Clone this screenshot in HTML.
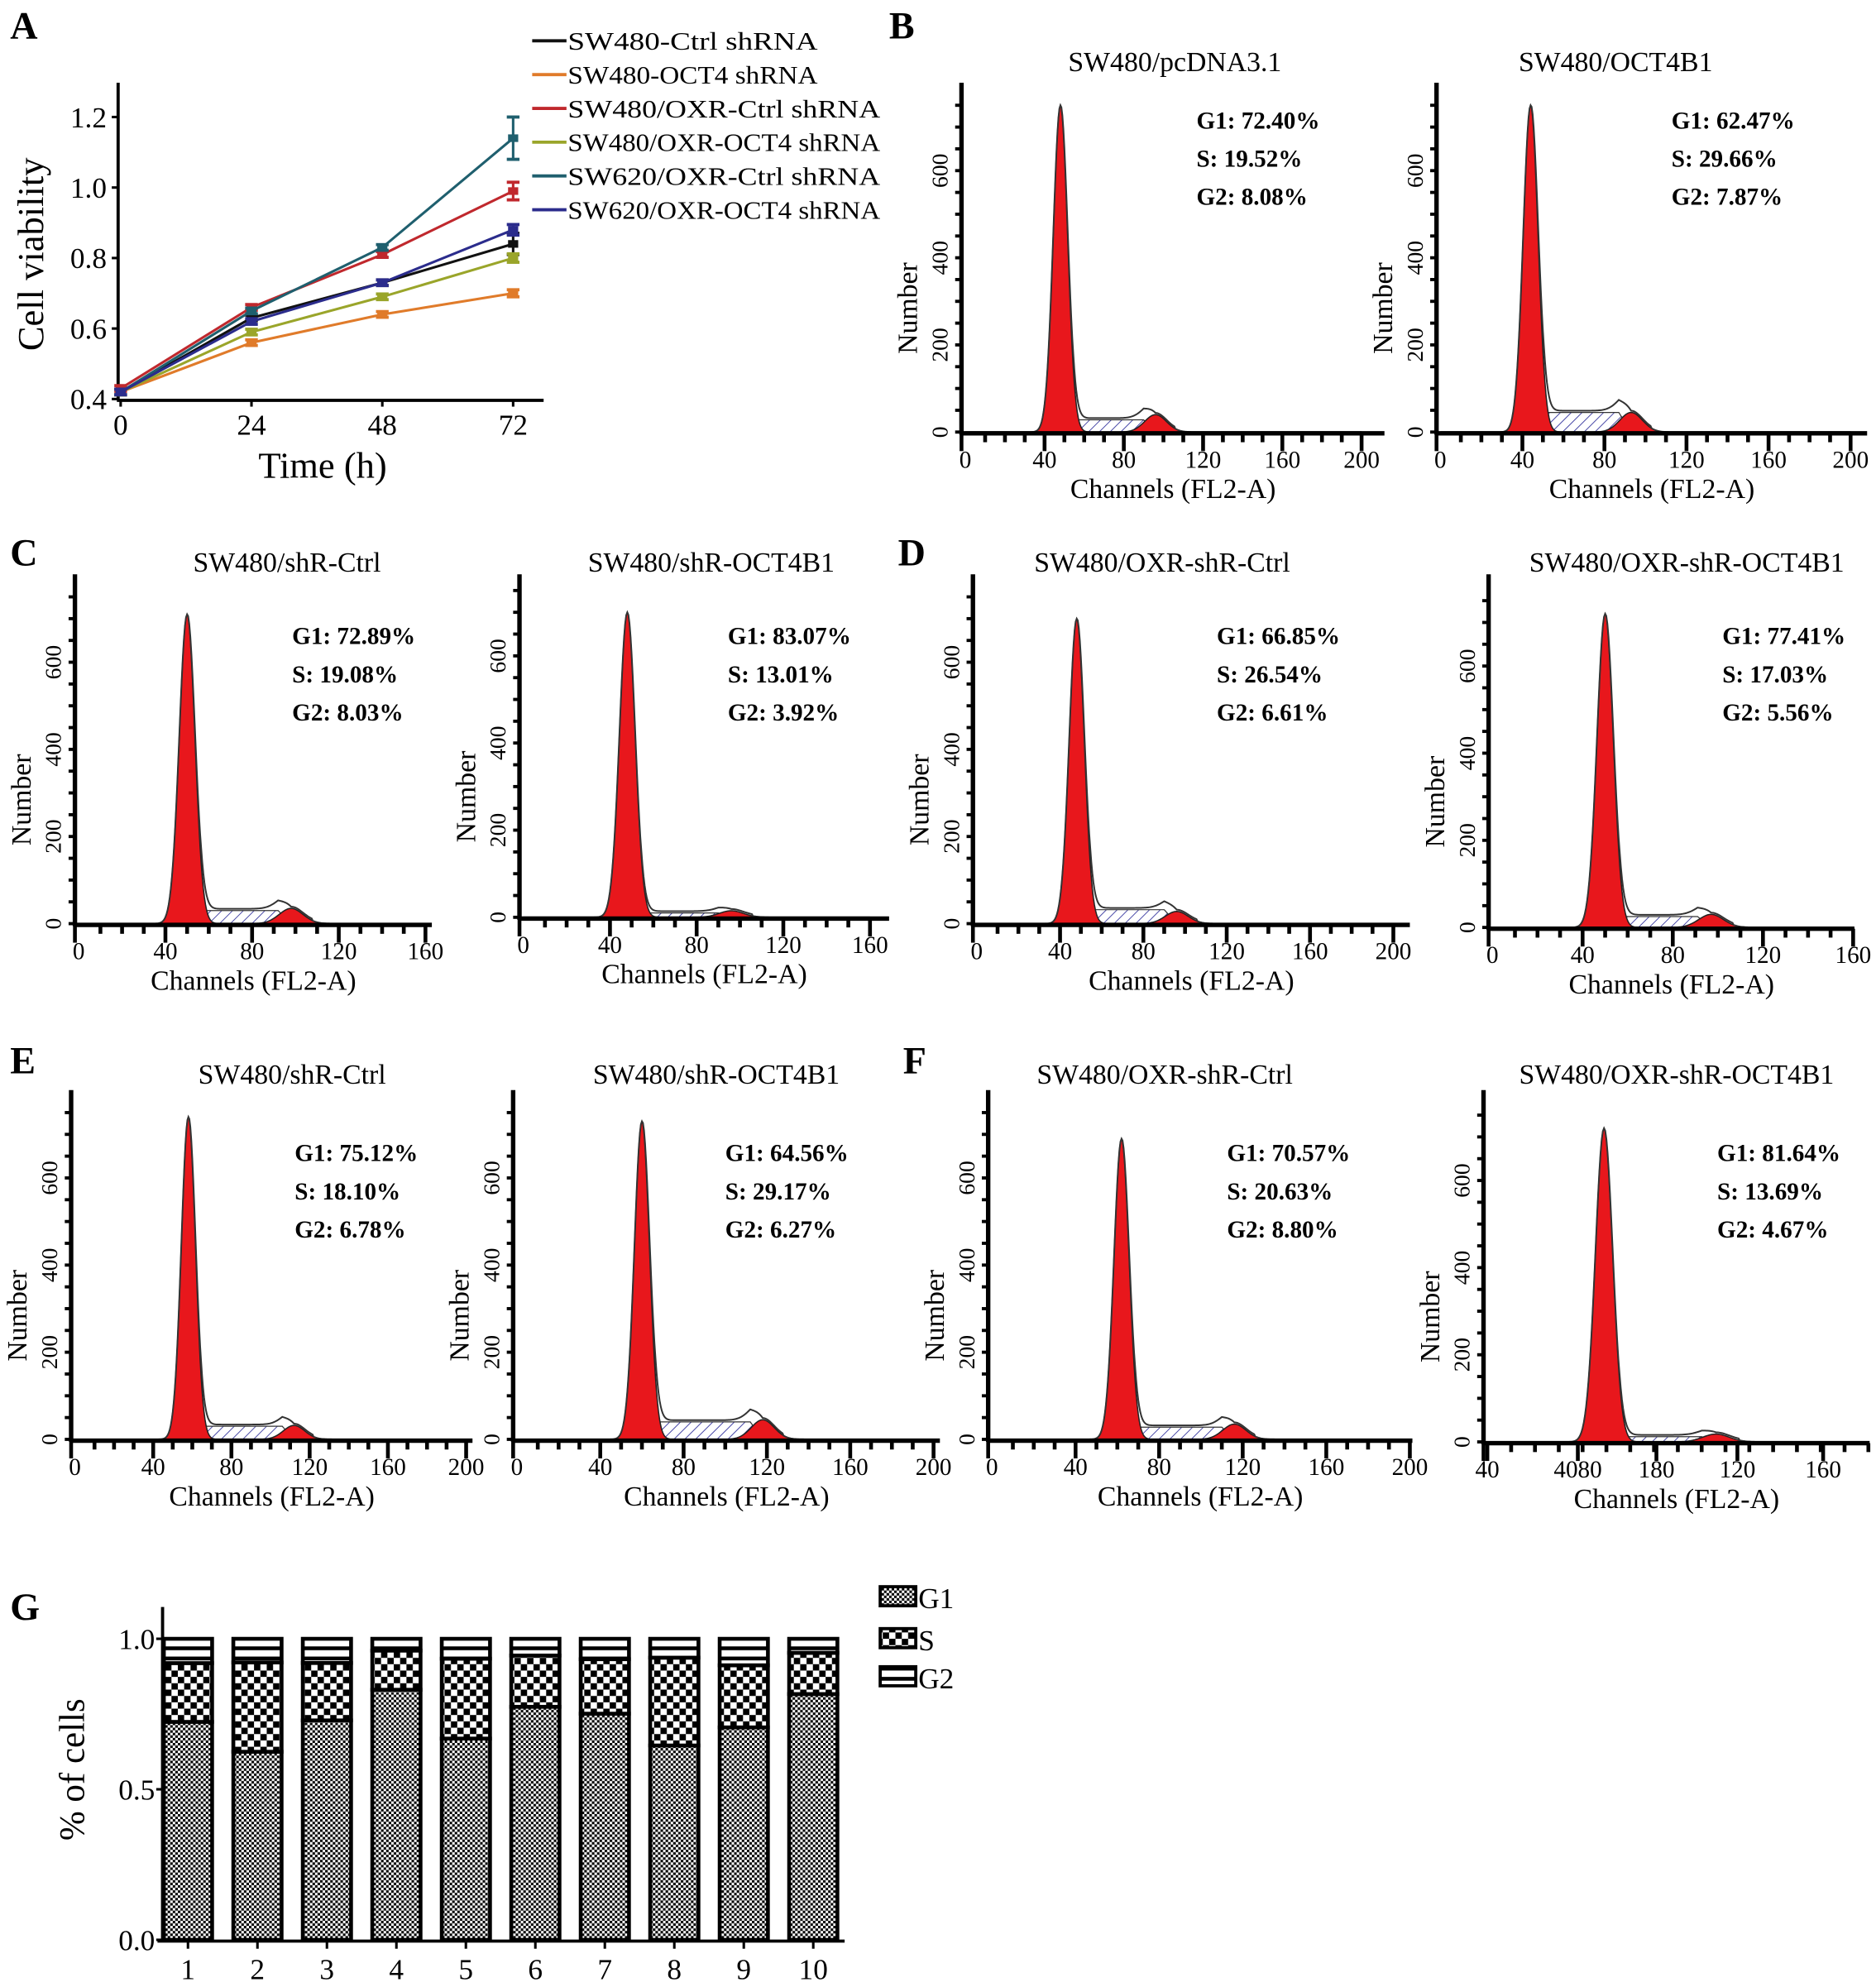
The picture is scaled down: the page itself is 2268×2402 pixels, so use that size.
<!DOCTYPE html>
<html><head><meta charset="utf-8"><style>
html,body{margin:0;padding:0;background:#fff}
svg{display:block}
text{font-family:"Liberation Serif",serif}
</style></head><body>
<svg id="fig" xmlns="http://www.w3.org/2000/svg" width="2268" height="2402" viewBox="0 0 1477 1564">
<defs>
<pattern id="pG1" width="4" height="4" patternUnits="userSpaceOnUse"><rect width="4" height="4" fill="#fff"/><rect width="2" height="2" fill="#000"/><rect x="2" y="2" width="2" height="2" fill="#000"/></pattern>
<pattern id="pS" width="10" height="10" patternUnits="userSpaceOnUse"><rect width="10" height="10" fill="#fff"/><rect width="5" height="5" fill="#000"/><rect x="5" y="5" width="5" height="5" fill="#000"/></pattern>
<pattern id="pG2" width="6" height="8" patternUnits="userSpaceOnUse"><rect width="6" height="8" fill="#fff"/><rect width="6" height="3" fill="#000"/></pattern>
<pattern id="hatch" width="6" height="6" patternUnits="userSpaceOnUse" patternTransform="rotate(45)"><rect width="6" height="6" fill="#fff"/><line x1="0" y1="0" x2="0" y2="6" stroke="#3a3aa0" stroke-width="1.2"/></pattern>
</defs>
<g id="root"></g>
</svg>
<script>
// ---- Panel A data ----
const timeCats = [0, 24, 48, 72];
const seriesNames = ["SW480-Ctrl shRNA","SW480-OCT4 shRNA","SW480/OXR-Ctrl shRNA","SW480/OXR-OCT4 shRNA","SW620/OXR-Ctrl shRNA","SW620/OXR-OCT4 shRNA"];
const ctrlVals = [0.42, 0.63, 0.73, 0.84];
const oct4Vals = [0.42, 0.56, 0.64, 0.70];
const oxrCtrlVals = [0.43, 0.66, 0.81, 0.99];
const oxrOct4Vals = [0.42, 0.59, 0.69, 0.80];
const sw620CtrlVals = [0.42, 0.65, 0.83, 1.14];
const sw620Oct4Vals = [0.42, 0.62, 0.73, 0.88];
const errVals = [0.03, 0.01, 0.025, 0.012, 0.06, 0.015];
const viabTicks = [0.4, 0.6, 0.8, 1.0, 1.2];
// ---- Histogram data ----
const histTitles = ["SW480/pcDNA3.1","SW480/OCT4B1","SW480/shR-Ctrl","SW480/shR-OCT4B1","SW480/OXR-shR-Ctrl","SW480/OXR-shR-OCT4B1","SW480/shR-Ctrl","SW480/shR-OCT4B1","SW480/OXR-shR-Ctrl","SW480/OXR-shR-OCT4B1"];
const histG1Pct = ["72.40","62.47","72.89","83.07","66.85","77.41","75.12","64.56","70.57","81.64"];
const histSPct = ["19.52","29.66","19.08","13.01","26.54","17.03","18.10","29.17","20.63","13.69"];
const histG2Pct = ["8.08","7.87","8.03","3.92","6.61","5.56","6.78","6.27","8.80","4.67"];
const histG1Channel = [48, 44, 50, 48, 48, 50, 58, 60, 62, 49];
const histG1Peak = [750, 750, 710, 700, 700, 720, 740, 730, 690, 720];
const histG2Channel = [96, 93, 98, 96, 96, 97, 112, 118, 116, 96];
const histG2Peak = [40, 45, 35, 15, 28, 30, 32, 45, 35, 18];
const histSLevel = [28, 45, 30, 10, 32, 25, 30, 40, 28, 12];
const histYTicks = [0, 200, 400, 600];
// ---- Panel G data ----
const barCats = ["1","2","3","4","5","6","7","8","9","10"];
const g1Frac = [0.7240,0.6247,0.7289,0.8307,0.6685,0.7741,0.7512,0.6456,0.7057,0.8164];
const sFrac = [0.1952,0.2966,0.1908,0.1301,0.2654,0.1703,0.1810,0.2917,0.2063,0.1369];
const g2Frac = [0.0808,0.0787,0.0803,0.0392,0.0661,0.0556,0.0678,0.0627,0.0880,0.0467];
const pctTicks = [0.0, 0.5, 1.0];

const NS = "http://www.w3.org/2000/svg";
const root = document.getElementById('root');
function mk(tag, attrs, parent, txt){
  const e = document.createElementNS(NS, tag);
  for (const k in attrs) e.setAttribute(k, attrs[k]);
  if (txt !== undefined) e.textContent = txt;
  (parent || root).appendChild(e);
  return e;
}
function grp(name){
  const g = mk('g', {});
  
  
  return g;
}

const letters = [["A",8,30],["B",700,30],["C",8,445],["D",707,445],["E",8,845],["F",711,845],["G",8,1275]];
letters.forEach(l=>{
  const t = mk('text', {x:l[1], y:l[2], 'font-size':30, 'font-weight':'bold'}, root, l[0]);
  
  
});

// ---- Panel A ----
(function(){
  const g = grp('panel-a-line-chart');
  const x0 = 95, x1 = 404, yB = 314, yT = 92;
  const xs = v => x0 + (v - 0) / 72 * (x1 - x0);
  const ys = v => yB - (v - 0.4) / 0.8 * (yB - yT);
  mk('line', {x1:93, y1:65, x2:93, y2:315, stroke:'#000', 'stroke-width':2.5}, g);
  mk('line', {x1:92, y1:315, x2:428, y2:315, stroke:'#000', 'stroke-width':2.5}, g);
  viabTicks.forEach(v=>{
    mk('line', {x1:88, y1:ys(v), x2:93, y2:ys(v), stroke:'#000', 'stroke-width':2}, g);
    const t = mk('text', {x:84, y:ys(v)+8, 'font-size':23, 'text-anchor':'end'}, g, v.toFixed(1));
    
    
  });
  timeCats.forEach(v=>{
    mk('line', {x1:xs(v), y1:315, x2:xs(v), y2:320, stroke:'#000', 'stroke-width':2}, g);
    const t = mk('text', {x:xs(v), y:342, 'font-size':23, 'text-anchor':'middle'}, g, String(v));
    
    
  });
  const xt = mk('text', {x:254, y:376, 'font-size':29, 'text-anchor':'middle'}, g, 'Time (h)');
  
  
  const yt = mk('text', {x:0, y:0, 'font-size':29, 'text-anchor':'middle', transform:'translate(34,200) rotate(-90)'}, g, 'Cell viability');
  
  
  const all = [ctrlVals, oct4Vals, oxrCtrlVals, oxrOct4Vals, sw620CtrlVals, sw620Oct4Vals];
  const cols = ['#111111','#e07b2a','#c0282d','#9aa52a','#1f5f6e','#2b2c8c'];
  all.forEach((vals, i)=>{
    const sg = mk('g', {}, g);
    
    
    mk('polyline', {points: vals.map((v,j)=>xs(timeCats[j])+','+ys(v)).join(' '), fill:'none', stroke:cols[i], 'stroke-width':2}, sg);
    vals.forEach((v,j)=>{
      const e = j === 3 ? errVals[i] : 0.008;
      const cx = xs(timeCats[j]);
      mk('line', {x1:cx, y1:ys(v+e), x2:cx, y2:ys(v-e), stroke:cols[i], 'stroke-width':2}, sg);
      mk('line', {x1:cx-5, y1:ys(v+e), x2:cx+5, y2:ys(v+e), stroke:cols[i], 'stroke-width':2.5}, sg);
      mk('line', {x1:cx-5, y1:ys(v-e), x2:cx+5, y2:ys(v-e), stroke:cols[i], 'stroke-width':2.5}, sg);
      const p = mk('rect', {x:cx-4, y:ys(v)-3, width:8, height:6, fill:cols[i]}, sg);
      
      
    });
    const ly = 32 + i * 26.6;
    const le = mk('g', {}, g);
    
    
    mk('line', {x1:419, y1:ly, x2:446, y2:ly, stroke:cols[i], 'stroke-width':2.5}, le);
    mk('text', {x:447, y:ly+7, 'font-size':20, textLength: seriesNames[i].length*12.3, lengthAdjust:'spacingAndGlyphs'}, le, seriesNames[i]);
  });
})();

// ---- Histograms ----
const histLayout = [
  {ox:760, scale:1.56, bot:340, top:65, xmax:200, axR:1090, titleX:925, titleY:56, statX:942, statY:101},
  {ox:1134, scale:1.615, bot:340, top:65, xmax:200, axR:1470, titleX:1272, titleY:56, statX:1316, statY:101},
  {ox:62, scale:1.706, bot:727, top:452, xmax:160, axR:340, titleX:226, titleY:450, statX:230, statY:507},
  {ox:412, scale:1.706, bot:722, top:452, xmax:160, axR:700, titleX:560, titleY:450, statX:573, statY:507},
  {ox:769, scale:1.64, bot:727, top:452, xmax:200, axR:1110, titleX:915, titleY:450, statX:958, statY:507},
  {ox:1175, scale:1.775, bot:730, top:452, xmax:160, axR:1460, titleX:1328, titleY:450, statX:1356, statY:507},
  {ox:59, scale:1.54, bot:1133, top:858, xmax:200, axR:372, titleX:230, titleY:853, statX:232, statY:914},
  {ox:407, scale:1.64, bot:1133, top:858, xmax:200, axR:740, titleX:564, titleY:853, statX:571, statY:914},
  {ox:781, scale:1.645, bot:1133, top:858, xmax:200, axR:1112, titleX:917, titleY:853, statX:966, statY:914},
  {ox:1171, scale:1.875, bot:1135, top:858, xmax:160, axR:1472, titleX:1320, titleY:853, statX:1352, statY:914, custom:[[0,'40'],[38,'4080'],[71,'180'],[105,'120'],[141,'160']]}
];
const gauss = (x, m, s) => Math.exp(-0.5 * ((x - m) / s) ** 2);
histLayout.forEach((L, i)=>{
  const g = grp('histogram-' + (i+1));
  const xs = c => L.ox + c * L.scale;
  const ys = v => L.bot - v * 0.343;
  const s1 = 3.6, s2 = 5.5;
  const m1 = histG1Channel[i], m2 = histG2Channel[i];
  const sFn = c => (c > m1 && c < m2) ? histSLevel[i] * Math.min(1, (c - m1) / 6) * Math.min(1, (m2 - c) / 6) : 0;
  const step = 0.5, cMax = L.xmax;
  let pts1 = [], pts2 = [], ptsS = [], env = [];
  for (let c = 0; c <= cMax; c += step){
    const a = histG1Peak[i] * gauss(c, m1, s1);
    const b = histG2Peak[i] * gauss(c, m2, s2);
    const s = sFn(c);
    pts1.push(xs(c)+','+ys(a));
    pts2.push(xs(c)+','+ys(b));
    ptsS.push(xs(c)+','+ys(s));
    env.push(xs(c)+','+ys(a + b + s + (c > m1 + 6 && c < m2 + 10 ? 4 : 0)));
  }
  const base = xs(cMax)+','+ys(0)+' '+xs(0)+','+ys(0);
  const sp = mk('polygon', {points: ptsS.join(' ')+' '+base, fill:'url(#hatch)', stroke:'#333', 'stroke-width':0.8}, g);
  
  
  const p1 = mk('polygon', {points: pts1.join(' ')+' '+base, fill:'#e8171c', stroke:'#222', 'stroke-width':1}, g);
  
  
  const p2 = mk('polygon', {points: pts2.join(' ')+' '+base, fill:'#e8171c', stroke:'#222', 'stroke-width':1}, g);
  
  
  const en = mk('polyline', {points: env.join(' '), fill:'none', stroke:'#333', 'stroke-width':1.3}, g);
  
  
  const axL = L.ox - 3;
  mk('line', {x1:axL, y1:L.top, x2:axL, y2:L.bot+2, stroke:'#000', 'stroke-width':3.5}, g);
  mk('line', {x1:axL, y1:L.bot+1, x2:L.axR, y2:L.bot+1, stroke:'#000', 'stroke-width':3.5}, g);
  for (let v = 0; v <= 800; v += 50){
    const y = ys(v); if (y < L.top + 4) break;
    mk('line', {x1:axL-5, y1:y, x2:axL, y2:y, stroke:'#000', 'stroke-width':2.5}, g);
  }
  histYTicks.forEach(v=>{
    const t = mk('text', {x:0, y:0, 'font-size':18, 'text-anchor':'middle', transform:`translate(${axL-11},${ys(v)}) rotate(-90)`}, g, String(v));
    
    
  });
  for (let c = 10; c <= cMax; c += 10){
    const major = c % 40 === 0 && !L.custom;
    mk('line', {x1:xs(c), y1:L.bot+1, x2:xs(c), y2:L.bot + (major ? 15 : 8), stroke:'#000', 'stroke-width':3}, g);
  }
  mk('line', {x1:axL, y1:L.bot+1, x2:axL, y2:L.bot+15, stroke:'#000', 'stroke-width':3}, g);
  const lbls = L.custom || (() => { const a=[]; for (let c=0;c<=cMax;c+=40) a.push([c,String(c)]); return a; })();
  lbls.forEach(([c, s])=>{
    if (L.custom) mk('line', {x1:xs(c), y1:L.bot+1, x2:xs(c), y2:L.bot+15, stroke:'#000', 'stroke-width':3}, g);
    const t = mk('text', {x:xs(c), y:L.bot+28, 'font-size':19, 'text-anchor':'middle'}, g, s);
    
    
  });
  const midX = (axL + L.axR) / 2;
  const xt = mk('text', {x:midX, y:L.bot+52, 'font-size':22, 'text-anchor':'middle'}, g, 'Channels (FL2-A)');
  
  
  const yt = mk('text', {x:0, y:0, 'font-size':22, 'text-anchor':'middle', transform:`translate(${axL-35},${(L.top+L.bot)/2+40}) rotate(-90)`}, g, 'Number');
  
  
  const tt = mk('text', {x:L.titleX, y:L.titleY, 'font-size':22, 'text-anchor':'middle'}, g, histTitles[i]);
  
  
  [['G1: ', histG1Pct[i]], ['S: ', histSPct[i]], ['G2: ', histG2Pct[i]]].forEach((p, k)=>{
    const t = mk('text', {x:L.statX, y:L.statY + k*30, 'font-size':19, 'font-weight':'bold'}, g, p[0] + p[1] + '%');
    
    
  });
});

// ---- Panel G ----
(function(){
  const g = grp('panel-g-stacked-bar-chart');
  const yB = 1527, yT1 = 1290;
  const ys = v => yB - v * (yB - yT1);
  const xs = i => 148 + i * 54.7;
  const bw = 38;
  mk('line', {x1:128, y1:1265, x2:128, y2:yB+2, stroke:'#000', 'stroke-width':2.5}, g);
  mk('line', {x1:124, y1:yB+1, x2:665, y2:yB+1, stroke:'#000', 'stroke-width':2.5}, g);
  pctTicks.forEach(v=>{
    mk('line', {x1:123, y1:ys(v), x2:128, y2:ys(v), stroke:'#000', 'stroke-width':2}, g);
    const t = mk('text', {x:122, y:ys(v)+8, 'font-size':23, 'text-anchor':'end'}, g, v.toFixed(1));
    
    
  });
  const yt = mk('text', {x:0, y:0, 'font-size':28, 'text-anchor':'middle', transform:'translate(66,1393) rotate(-90)'}, g, '% of cells');
  
  
  barCats.forEach((c, i)=>{
    const cx = xs(i);
    const segs = [[0, g1Frac[i], 'url(#pG1)', 'g1'], [g1Frac[i], g1Frac[i]+sFrac[i], 'url(#pS)', 's'], [g1Frac[i]+sFrac[i], g1Frac[i]+sFrac[i]+g2Frac[i], 'url(#pG2)', 'g2']];
    segs.forEach(s=>{
      const r = mk('rect', {x:cx-bw/2, y:ys(s[1]), width:bw, height:ys(s[0])-ys(s[1]), fill:s[2], stroke:'#000', 'stroke-width':3}, g);
      
      
    });
    mk('line', {x1:cx, y1:yB+1, x2:cx, y2:yB+7, stroke:'#000', 'stroke-width':2}, g);
    const t = mk('text', {x:cx, y:1558, 'font-size':23, 'text-anchor':'middle'}, g, c);
    
    
  });
  [['G1','url(#pG1)',1257],['S','url(#pS)',1290],['G2','url(#pG2)',1320]].forEach(l=>{
    const le = mk('g', {}, g);
    
    
    mk('rect', {x:693, y:l[2]-8, width:28, height:15, fill:l[1], stroke:'#000', 'stroke-width':2.5}, le);
    mk('text', {x:723, y:l[2]+9, 'font-size':23}, le, l[0]);
  });
})();
</script>
</body></html>
